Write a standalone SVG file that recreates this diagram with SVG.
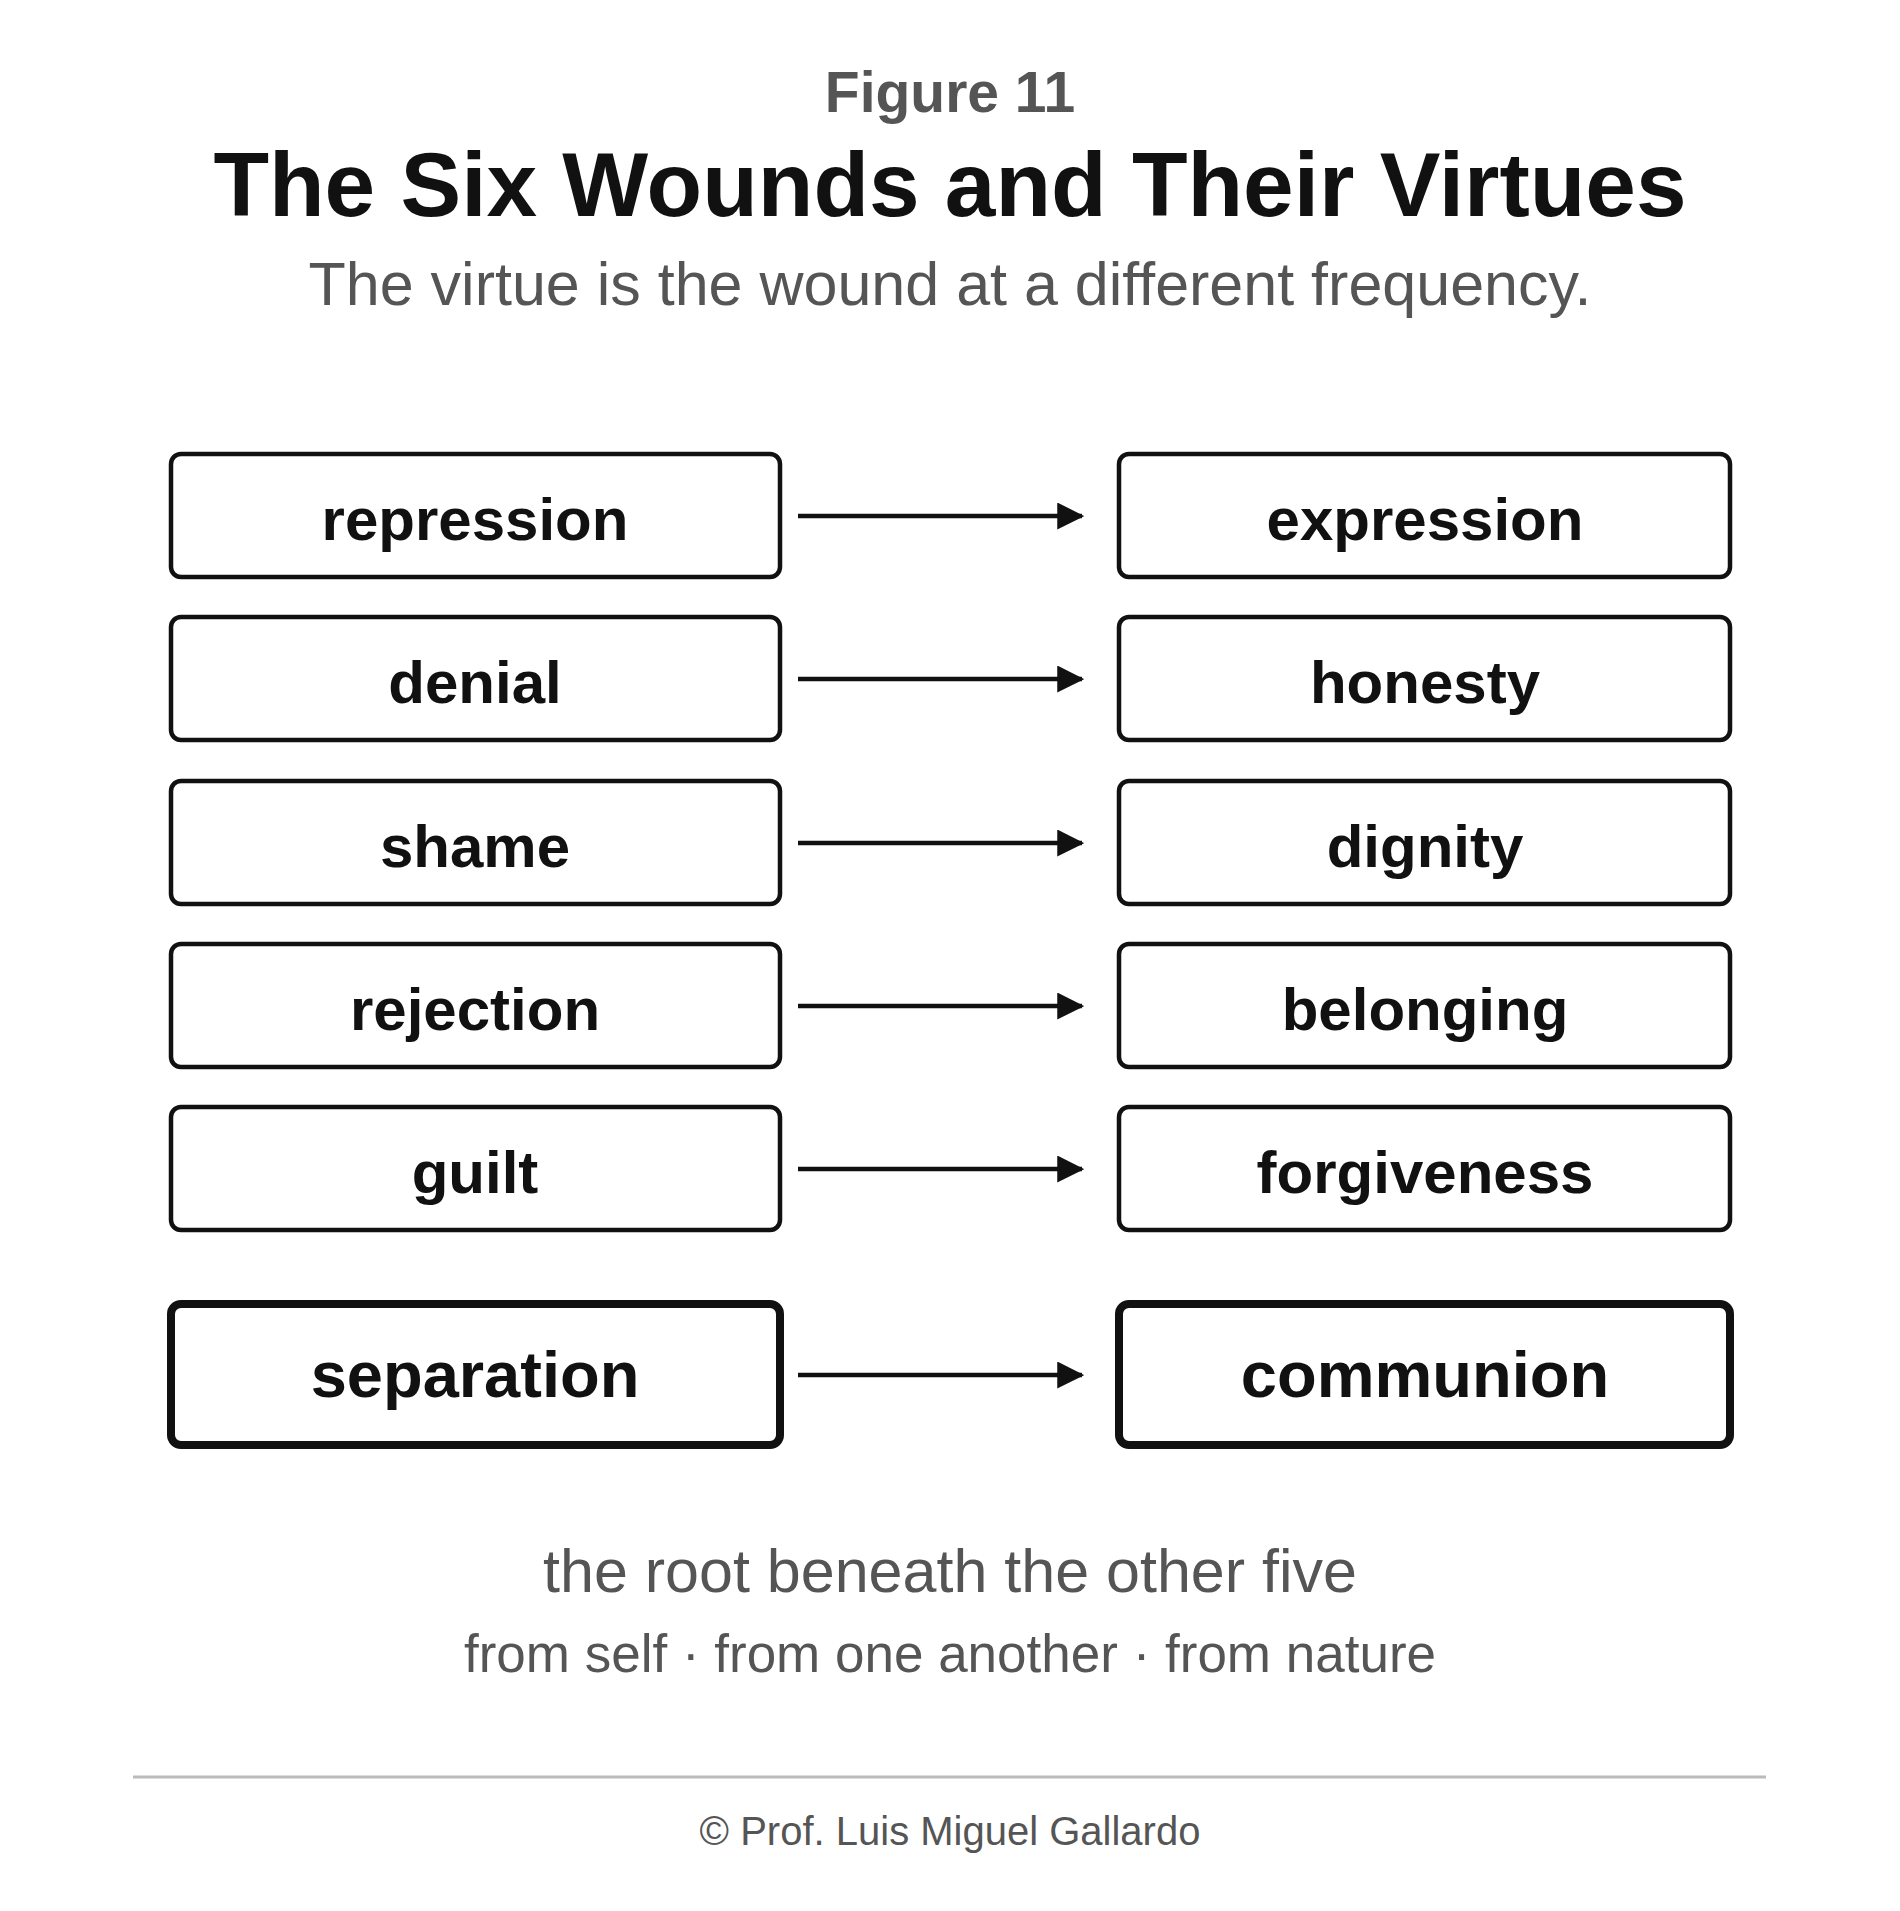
<svg xmlns="http://www.w3.org/2000/svg" width="1900" height="1911" viewBox="0 0 1900 1911">
<style>
.b{fill:#fff;stroke:#111;stroke-width:4.5}
.bb{fill:#fff;stroke:#111;stroke-width:8}
.t{font-family:"Liberation Sans",Arial,sans-serif;font-weight:bold;font-size:60px;fill:#111;text-anchor:middle}
.tb{font-size:65px}
.g{font-family:"Liberation Sans",Arial,sans-serif;fill:#555;text-anchor:middle}
.c{stroke:#111;stroke-width:4.5;fill:none;marker-end:url(#a)}
</style>
<defs><marker id="a" markerWidth="6" markerHeight="6" refX="5.5" refY="3" orient="auto" markerUnits="strokeWidth" viewBox="0 0 6 6"><path d="M0,0L6,3L0,6z" fill="#111"/></marker></defs>
<rect width="1900" height="1911" fill="#fff"/>
<text class="g" x="950" y="112" font-size="57" font-weight="bold">Figure 11</text>
<text class="g" x="950" y="216" font-size="91" font-weight="bold" style="fill:#111">The Six Wounds and Their Virtues</text>
<text class="g" x="950" y="305" font-size="61">The virtue is the wound at a different frequency.</text>
<g id="n1"><rect class="b" x="171" y="454" width="609" height="123" rx="10"/><text class="t" x="475" y="540">repression</text></g>
<g id="v1"><rect class="b" x="1119" y="454" width="611" height="123" rx="10"/><text class="t" x="1425" y="540">expression</text></g>
<g id="n2"><rect class="b" x="171" y="617" width="609" height="123" rx="10"/><text class="t" x="475" y="703">denial</text></g>
<g id="v2"><rect class="b" x="1119" y="617" width="611" height="123" rx="10"/><text class="t" x="1425" y="703">honesty</text></g>
<g id="n3"><rect class="b" x="171" y="781" width="609" height="123" rx="10"/><text class="t" x="475" y="867">shame</text></g>
<g id="v3"><rect class="b" x="1119" y="781" width="611" height="123" rx="10"/><text class="t" x="1425" y="867">dignity</text></g>
<g id="n4"><rect class="b" x="171" y="944" width="609" height="123" rx="10"/><text class="t" x="475" y="1030">rejection</text></g>
<g id="v4"><rect class="b" x="1119" y="944" width="611" height="123" rx="10"/><text class="t" x="1425" y="1030">belonging</text></g>
<g id="n5"><rect class="b" x="171" y="1107" width="609" height="123" rx="10"/><text class="t" x="475" y="1193">guilt</text></g>
<g id="v5"><rect class="b" x="1119" y="1107" width="611" height="123" rx="10"/><text class="t" x="1425" y="1193">forgiveness</text></g>
<g id="n6"><rect class="bb" x="171" y="1304" width="609" height="141" rx="10"/><text class="t tb" x="475" y="1397">separation</text></g>
<g id="v6"><rect class="bb" x="1119" y="1304" width="611" height="141" rx="10"/><text class="t tb" x="1425" y="1397">communion</text></g>
<g id="connectors">
<line class="c" x1="798" y1="516" x2="1082" y2="516"/>
<line class="c" x1="798" y1="679" x2="1082" y2="679"/>
<line class="c" x1="798" y1="843" x2="1082" y2="843"/>
<line class="c" x1="798" y1="1006" x2="1082" y2="1006"/>
<line class="c" x1="798" y1="1169" x2="1082" y2="1169"/>
<line class="c" x1="798" y1="1375" x2="1082" y2="1375"/>
</g>
<text class="g" x="950" y="1592" font-size="61">the root beneath the other five</text>
<text class="g" x="950" y="1672" font-size="53">from self · from one another · from nature</text>
<line x1="133" y1="1777" x2="1766" y2="1777" stroke="#bbb" stroke-width="3"/>
<text class="g" x="950" y="1845" font-size="40">© Prof. Luis Miguel Gallardo</text>
</svg>
